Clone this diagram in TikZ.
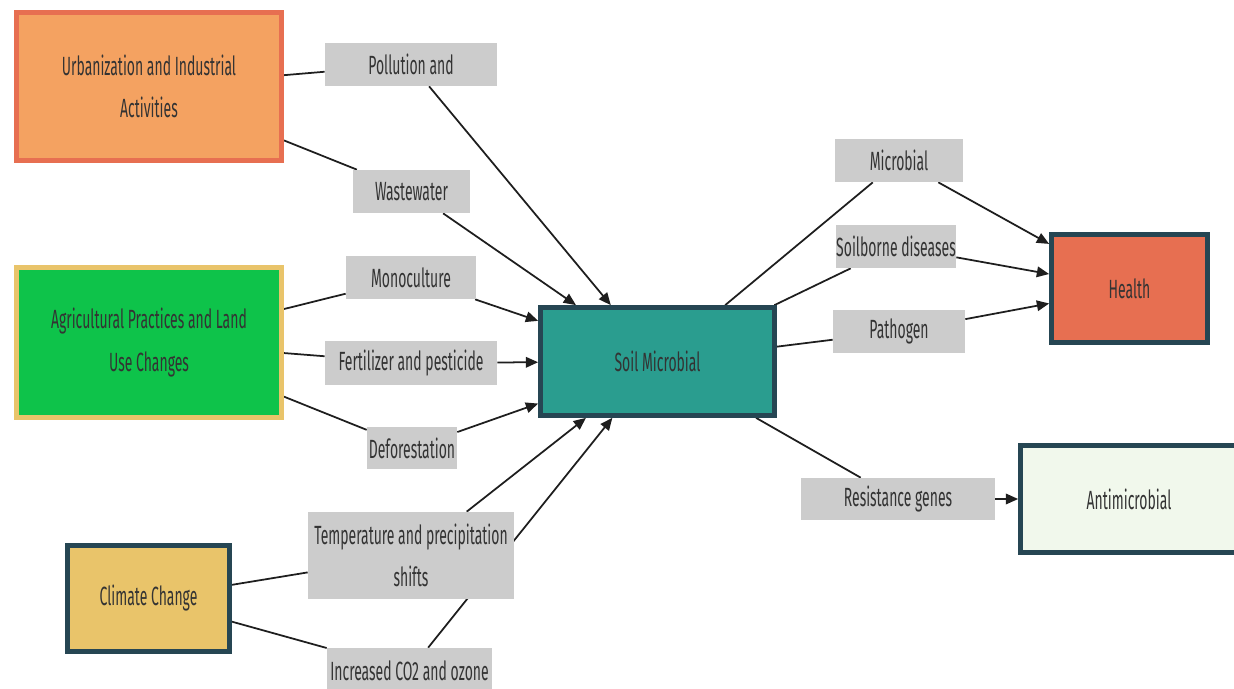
\documentclass[tikz,border=0pt]{standalone}
\usepackage{fontspec}
\setmainfont{Fira Sans}[FakeStretch=0.53]
\usetikzlibrary{arrows.meta}
\definecolor{slateedge}{HTML}{264653}
\definecolor{urbanfill}{HTML}{F4A261}
\definecolor{urbanedge}{HTML}{E76F51}
\definecolor{agrifill}{HTML}{0EC34A}
\definecolor{agriedge}{HTML}{E9C46A}
\definecolor{climfill}{HTML}{E9C46A}
\definecolor{soilfill}{HTML}{2A9D8F}
\definecolor{healthfill}{HTML}{E76F51}
\definecolor{antifill}{HTML}{F1F8EC}
\definecolor{lblgray}{HTML}{CCCCCC}
\definecolor{inkgray}{HTML}{333333}
\definecolor{linegray}{HTML}{1E1E1E}
\pgfdeclarelayer{background}
\pgfsetlayers{background,main}
\tikzset{
  mainbox/.style={draw=slateedge, line width=2.7pt, align=center, text=inkgray,
    font=\fontsize{15}{24}\selectfont, inner sep=0pt},
  lblbox/.style={fill=lblgray, align=center, text=inkgray,
    font=\fontsize{15}{24}\selectfont, inner sep=0pt},
  link/.style={draw=linegray, line width=1pt},
  arr/.style={link, -{Triangle[length=7pt,width=6pt]}},
}

\begin{document}
\begin{tikzpicture}[x=0.02cm, y=-0.02cm]
    \useasboundingbox (0,0) rectangle (1234,689);
    \clip (0,0) rectangle (1234,689);
    % drivers
    \node[mainbox, draw=urbanedge, fill=urbanfill, minimum width=5.3cm, minimum height=2.96cm] (urban) at (149,86.5) {Urbanization and Industrial\\Activities};
    \node[mainbox, draw=agriedge, fill=agrifill, minimum width=5.3cm, minimum height=3.0cm] (agri) at (149,342.5) {Agricultural Practices and Land\\Use Changes};
    \node[mainbox, fill=climfill, minimum width=3.24cm, minimum height=2.12cm] (climate) at (148.5,598.5) {Climate Change};
    % pathways
    \node[lblbox, minimum width=3.44cm, minimum height=0.86cm] (pollution) at (411,64.5) {Pollution and};
    \node[lblbox, minimum width=2.34cm, minimum height=0.86cm] (waste) at (411.5,191.5) {Wastewater};
    \node[lblbox, minimum width=2.6cm, minimum height=0.86cm] (mono) at (411,277.5) {Monoculture};
    \node[lblbox, minimum width=3.44cm, minimum height=0.88cm] (fert) at (411,363) {Fertilizer and pesticide};
    \node[lblbox, minimum width=1.8cm, minimum height=0.84cm] (defor) at (412,448) {Deforestation};
    \node[lblbox, minimum width=4.12cm, minimum height=1.74cm] (temp) at (411,555.5) {Temperature and precipitation\\shifts};
    \node[lblbox, minimum width=3.3cm, minimum height=0.92cm] (co2) at (409.5,671) {Increased CO2 and ozone};
    % soil
    \node[mainbox, fill=soilfill, minimum width=4.68cm, minimum height=2.16cm] (soil) at (657.5,361.5) {Soil Microbial};
    % effects
    \node[lblbox, minimum width=2.56cm, minimum height=0.86cm] (microbial) at (899,160.5) {Microbial};
    \node[lblbox, minimum width=2.4cm, minimum height=0.86cm] (soilborne) at (896,246.5) {Soilborne diseases};
    \node[lblbox, minimum width=2.64cm, minimum height=0.86cm] (pathogen) at (899,331.5) {Pathogen};
    \node[lblbox, minimum width=3.88cm, minimum height=0.84cm] (resist) at (898,499) {Resistance genes};
    \node[mainbox, fill=healthfill, minimum width=3.12cm, minimum height=2.16cm] (health) at (1129.5,288.5) {Health};
    \node[mainbox, fill=antifill, minimum width=4.34cm, minimum height=2.14cm] (anti) at (1129,499) {Antimicrobial};
    % connectors
    \begin{pgfonlayer}{background}
        \draw[link] (urban) -- (pollution);
        \draw[arr] (pollution) -- (soil);
        \draw[link] (urban) -- (waste);
        \draw[arr] (waste) -- (soil);
        \draw[link] (agri) -- (mono);
        \draw[arr] (mono) -- (soil);
        \draw[link] (agri) -- (fert);
        \draw[arr] (fert) -- (soil);
        \draw[link] (agri) -- (defor);
        \draw[arr] (defor) -- (soil);
        \draw[link] (climate) -- (temp);
        \draw[arr] (temp) -- (soil);
        \draw[link] (climate) -- (co2);
        \draw[arr] (co2) -- (soil);
        \draw[link] (soil) -- (microbial);
        \draw[arr] (microbial) -- (health);
        \draw[link] (soil) -- (soilborne);
        \draw[arr] (soilborne) -- (health);
        \draw[link] (soil) -- (pathogen);
        \draw[arr] (pathogen) -- (health);
        \draw[link] (soil) -- (resist);
        \draw[arr] (resist) -- (anti);
    \end{pgfonlayer}
\end{tikzpicture}
\end{document}
